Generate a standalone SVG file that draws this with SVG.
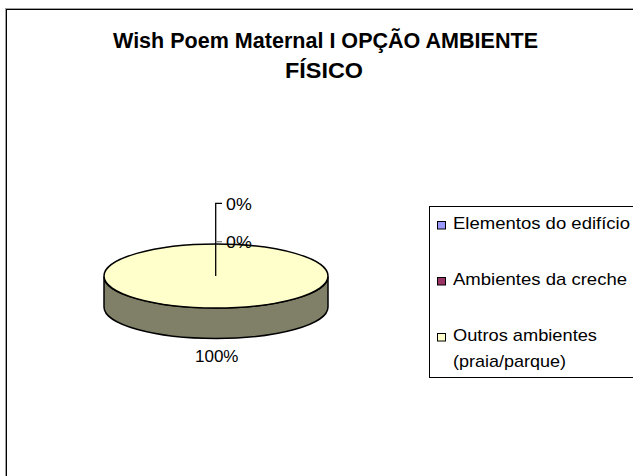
<svg xmlns="http://www.w3.org/2000/svg" width="633" height="476" viewBox="0 0 633 476">
<style>
  .title { font-family: "Liberation Sans", Arial, sans-serif; font-weight: bold; font-size: 22.5px; fill: #000; }
  .lbl { font-family: "Liberation Sans", Arial, sans-serif; font-size: 17px; fill: #000; }
  .leg { font-family: "Liberation Sans", Arial, sans-serif; font-size: 17px; fill: #000; }
  .mk { stroke: #000; stroke-width: 1; }
  .lead { stroke: #000; stroke-width: 1.3; fill: none; }
</style>
<rect x="0" y="0" width="633" height="476" fill="#fff"/>
<g id="frame">
  <rect x="5.5" y="8.5" width="700" height="600" fill="none" stroke="#a0a0a0" stroke-width="1"/>
  <rect x="6.5" y="9.5" width="700" height="600" fill="none" stroke="#000" stroke-width="1"/>
</g>
<g id="title">
  <text class="title" x="325.5" y="48" text-anchor="middle" textLength="425" lengthAdjust="spacingAndGlyphs">Wish Poem Maternal I OPÇÃO AMBIENTE</text>
  <text class="title" x="324" y="78" text-anchor="middle" textLength="78" lengthAdjust="spacingAndGlyphs">FÍSICO</text>
</g>
<g id="pie">
  <path d="M104,276.5 L104,307 A112,31.5 0 0 0 328,307 L328,276.5 A112,31.5 0 0 1 104,276.5 Z" fill="#808068" stroke="#000" stroke-width="1.5"/>
  <ellipse cx="216" cy="276" rx="112" ry="32" fill="#ffffcc" stroke="#000" stroke-width="1.5"/>
</g>
<g id="connectors">
  <polyline class="lead" points="222,203.3 215.7,203.3 215.7,276"/>
  <line x1="215.7" y1="241.7" x2="222" y2="241.7" stroke="#808080" stroke-width="1.3"/>
</g>
<g id="labels">
  <text class="lbl" x="226" y="209.5" textLength="25.7" lengthAdjust="spacingAndGlyphs">0%</text>
  <text class="lbl" x="226" y="247.7" textLength="25.7" lengthAdjust="spacingAndGlyphs">0%</text>
  <text class="lbl" x="195" y="361.7" textLength="43.5" lengthAdjust="spacingAndGlyphs">100%</text>
</g>
<g id="legend">
  <rect x="429.5" y="206.5" width="220" height="171" fill="#fff" stroke="#000" stroke-width="1"/>
  <g id="leg-elementos">
    <rect class="mk" x="437.5" y="221.5" width="8" height="7.5" fill="#9999ff"/>
    <text class="leg" x="453" y="229.3" textLength="177" lengthAdjust="spacingAndGlyphs">Elementos do edifício</text>
  </g>
  <g id="leg-ambientes">
    <rect class="mk" x="437.5" y="277.5" width="8" height="7.5" fill="#993366"/>
    <text class="leg" x="453" y="284.5" textLength="174" lengthAdjust="spacingAndGlyphs">Ambientes da creche</text>
  </g>
  <g id="leg-outros">
    <rect class="mk" x="437.5" y="333.5" width="8" height="7.5" fill="#ffffcc"/>
    <text class="leg" x="453" y="340.7" textLength="144" lengthAdjust="spacingAndGlyphs">Outros ambientes</text>
    <text class="leg" x="453" y="366.7" textLength="113" lengthAdjust="spacingAndGlyphs">(praia/parque)</text>
  </g>
</g>
</svg>
